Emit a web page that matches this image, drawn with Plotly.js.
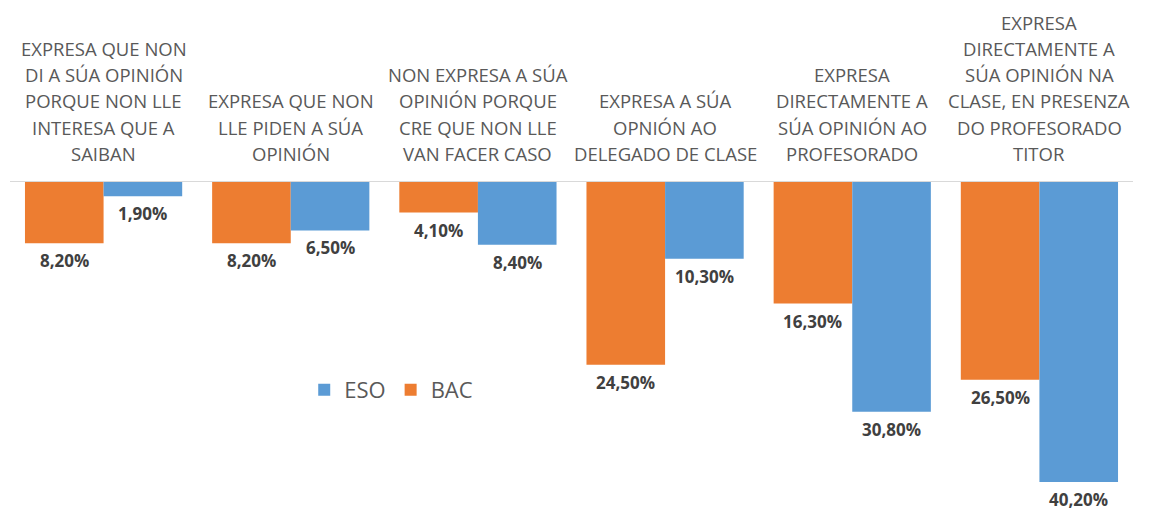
<!DOCTYPE html>
<html>
<head>
<meta charset="utf-8">
<script src="https://cdn.plot.ly/plotly-3.0.1.min.js"></script>
<style>html,body{margin:0;padding:0;background:#fff;}#chart{width:1155px;height:511px;}</style>
</head>
<body>
<div id="chart"></div>
<script>
var categories = [
  "EXPRESA QUE NON<br>DI A SÚA OPINIÓN<br>PORQUE NON LLE<br>INTERESA QUE A<br>SAIBAN",
  "EXPRESA QUE NON<br>LLE PIDEN A SÚA<br>OPINIÓN",
  "NON EXPRESA A SÚA<br>OPINIÓN PORQUE<br>CRE QUE NON LLE<br>VAN FACER CASO",
  "EXPRESA A SÚA<br>OPNIÓN AO<br>DELEGADO DE CLASE",
  "EXPRESA<br>DIRECTAMENTE A<br>SÚA OPINIÓN AO<br>PROFESORADO",
  "EXPRESA<br>DIRECTAMENTE A<br>SÚA OPINIÓN NA<br>CLASE, EN PRESENZA<br>DO PROFESORADO<br>TITOR"
];
var bacValues = [8.2, 8.2, 4.1, 24.5, 16.3, 26.5];
var esoValues = [1.9, 6.5, 8.4, 10.3, 30.8, 40.2];
var seriesNames = ["BAC", "ESO"];

function fmt(v) { return v.toFixed(2).replace('.', ',') + '%'; }

var BAR_GAP = 0.16;
var traces = [
  { type: 'bar', name: seriesNames[0], x: categories, y: bacValues,
    marker: { color: '#ED7D31' }, hoverinfo: 'none' },
  { type: 'bar', name: seriesNames[1], x: categories, y: esoValues,
    marker: { color: '#5B9BD5' }, hoverinfo: 'none' }
];

var annotations = [];
var LINE_H = 26.3;
categories.forEach(function (cat, i) {
  var lines = cat.split('<br>');
  var n = lines.length;
  lines.forEach(function (ln, k) {
    annotations.push({
      x: i, xref: 'x', y: 0, yref: 'y', yanchor: 'bottom', xanchor: 'center',
      yshift: 14 + (n - 1 - k) * LINE_H, text: ln, showarrow: false,
      font: { family: 'Open Sans', size: 18.5, color: '#595959' }
    });
  });
});
var off = (1 - BAR_GAP) / 4;
[bacValues, esoValues].forEach(function (vals, s) {
  vals.forEach(function (v, i) {
    annotations.push({
      x: i + (s === 0 ? -off : off), xref: 'x', y: v, yref: 'y',
      yanchor: 'top', xanchor: 'center', yshift: -5, borderpad: 0,
      text: '<b>' + fmt(v) + '</b>', showarrow: false,
      font: { family: 'Open Sans', size: 17, color: '#404040' }
    });
  });
});

var layout = {
  width: 1155, height: 511,
  margin: { l: 10, r: 22, t: 182, b: 0 },
  paper_bgcolor: '#ffffff', plot_bgcolor: '#ffffff',
  barmode: 'group', bargap: BAR_GAP, bargroupgap: 0,
  xaxis: { type: 'category', side: 'top', showline: true, linecolor: '#D9D9D9', linewidth: 1.5,
           showticklabels: false, ticks: '', showgrid: false, zeroline: false, fixedrange: true },
  yaxis: { range: [44.1, 0], showticklabels: false, showgrid: false, zeroline: false,
           showline: false, ticks: '', fixedrange: true },
  showlegend: true,
  legend: { orientation: 'h', traceorder: 'reversed', x: 0.262, xanchor: 'left',
            y: 0.368, yanchor: 'middle', bgcolor: 'rgba(0,0,0,0)',
            font: { family: 'Open Sans', size: 22, color: '#595959' } },
  annotations: annotations
};

Plotly.newPlot('chart', traces, layout, { displayModeBar: false, staticPlot: true });
</script>
</body>
</html>
